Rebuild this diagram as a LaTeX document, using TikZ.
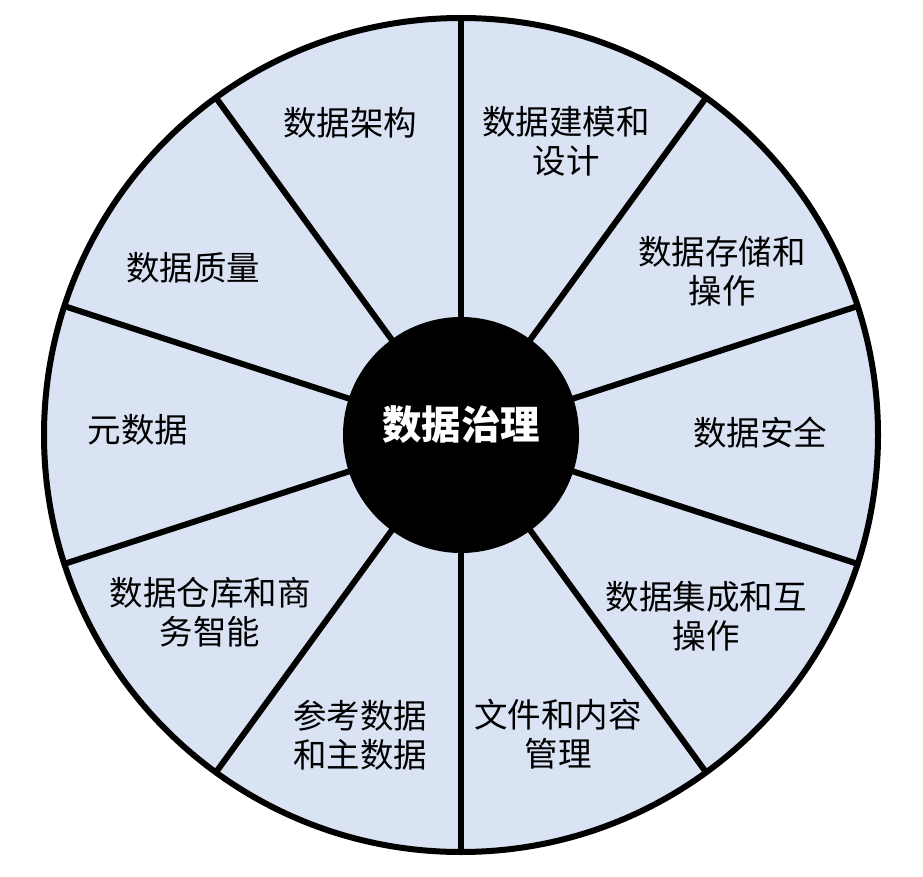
\documentclass[tikz,border=0pt]{standalone}
\usepackage{fontspec}
\usetikzlibrary{calc}
\newfontfamily\cjk{Noto Sans CJK SC}
\definecolor{segfill}{HTML}{DAE3F3}
\tikzset{
  seglabel/.style={font=\cjk\fontsize{33.5}{39}\selectfont, align=center, text=black, inner sep=0pt},
  divider/.style={line width=6pt, black},
  rim/.style={line width=6pt, draw=black, fill=segfill},
  hub/.style={circle, fill=black, minimum size=236pt, inner sep=0pt}
}
\begin{document}
\begin{tikzpicture}[x=1pt,y=-1pt]
\useasboundingbox (0,0) rectangle (923,877);
\coordinate (C) at (461,435);
\draw[rim] (C) circle[radius=417pt];
\foreach \a [count=\i] in {90,54,18,-18,-54,-90,-126,-162,162,126} {
  \coordinate (r\i) at ($(C)+(\a:417pt)$);
  \draw[divider] (C) -- (r\i);
}
\node[hub] (hub) at (C) {};
\node[text=white, font=\cjk\bfseries\fontsize{39.5}{44}\selectfont, inner sep=0pt] (title) at (461,425) {数据治理};
\node[seglabel] (s1) at (350,123) {数据架构};
\node[seglabel] (s2) at (566,141) {数据建模和\\设计};
\node[seglabel] (s3) at (722,271) {数据存储和\\操作};
\node[seglabel] (s4) at (760,433) {数据安全};
\node[seglabel] (s5) at (706,616) {数据集成和互\\操作};
\node[seglabel] (s6) at (558,734) {文件和内容\\管理};
\node[seglabel] (s7) at (360,735) {参考数据\\和主数据};
\node[seglabel] (s8) at (210,612) {数据仓库和商\\务智能};
\node[seglabel] (s9) at (138,430) {元数据};
\node[seglabel] (s10) at (193,268) {数据质量};
\end{tikzpicture}
\end{document}
